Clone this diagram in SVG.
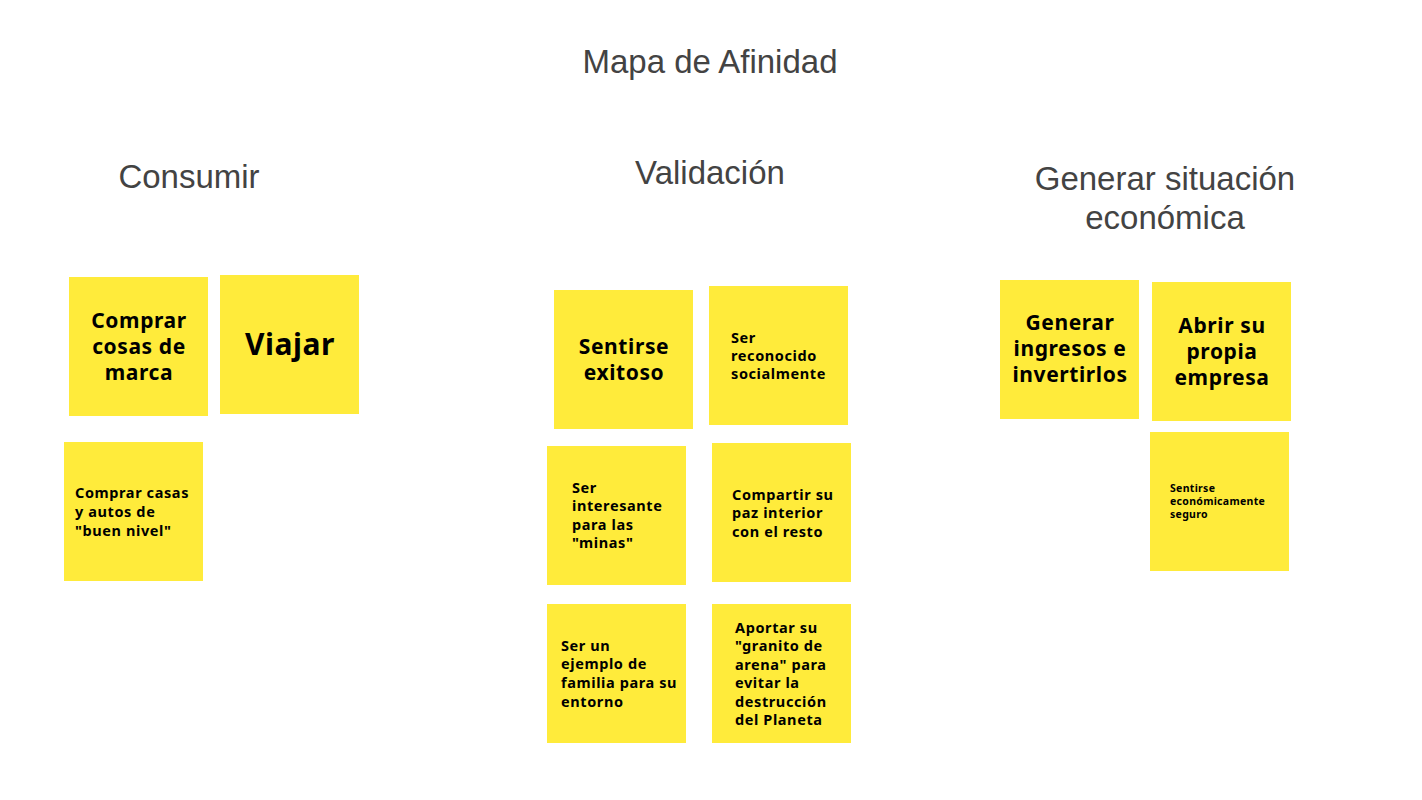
<svg xmlns="http://www.w3.org/2000/svg" width="1422" height="800" viewBox="0 0 1422 800">
<style>
.bg{fill:#ffffff}
.note{fill:#FFEB3B}
.h{font-family:"Liberation Sans",Arial,sans-serif;font-size:33px;fill:#434343;text-anchor:middle}
.t{font-family:"Noto Sans",sans-serif;font-weight:700;fill:#000000}
.c{text-anchor:middle}
.l{font-size:21px;letter-spacing:0.6px}
.m{font-size:14.5px;letter-spacing:0.6px}
.s{font-size:10.5px;letter-spacing:0.3px}
.xl{font-size:30px;letter-spacing:0.5px}
</style>
<rect class="bg" x="0" y="0" width="1422" height="800"/>
<g id="titles">
<text class="h" x="710" y="73">Mapa de Afinidad</text>
<text class="h" x="189" y="188">Consumir</text>
<text class="h" x="710" y="184">Validación</text>
<text class="h" x="1165" y="190">Generar situación</text>
<text class="h" x="1165" y="229">económica</text>
</g>
<g id="connectors"></g>
<g id="n1"><rect class="note" x="69" y="277" width="139" height="139"/>
<text class="t l c" x="139"><tspan x="139" y="328">Comprar</tspan><tspan x="139" y="354">cosas de</tspan><tspan x="139" y="380">marca</tspan></text></g>
<g id="n2"><rect class="note" x="220" y="275" width="139" height="139"/>
<text class="t xl c" x="290" y="355">Viajar</text></g>
<g id="n3"><rect class="note" x="64" y="442" width="139" height="139"/>
<text class="t m"><tspan x="75" y="498">Comprar casas</tspan><tspan x="75" y="517">y autos de</tspan><tspan x="75" y="536">"buen nivel"</tspan></text></g>
<g id="n4"><rect class="note" x="554" y="290" width="139" height="139"/>
<text class="t l c"><tspan x="624" y="354">Sentirse</tspan><tspan x="624" y="380">exitoso</tspan></text></g>
<g id="n5"><rect class="note" x="709" y="286" width="139" height="139"/>
<text class="t m"><tspan x="731" y="343">Ser</tspan><tspan x="731" y="361">reconocido</tspan><tspan x="731" y="379">socialmente</tspan></text></g>
<g id="n6"><rect class="note" x="547" y="446" width="139" height="139"/>
<text class="t m"><tspan x="572" y="493">Ser</tspan><tspan x="572" y="511">interesante</tspan><tspan x="572" y="530">para las</tspan><tspan x="572" y="548">"minas"</tspan></text></g>
<g id="n7"><rect class="note" x="712" y="443" width="139" height="139"/>
<text class="t m"><tspan x="732" y="500">Compartir su</tspan><tspan x="732" y="518">paz interior</tspan><tspan x="732" y="537">con el resto</tspan></text></g>
<g id="n8"><rect class="note" x="547" y="604" width="139" height="139"/>
<text class="t m"><tspan x="561" y="651">Ser un</tspan><tspan x="561" y="669">ejemplo de</tspan><tspan x="561" y="688">familia para su</tspan><tspan x="561" y="707">entorno</tspan></text></g>
<g id="n9"><rect class="note" x="712" y="604" width="139" height="139"/>
<text class="t m"><tspan x="735" y="633">Aportar su</tspan><tspan x="735" y="651">"granito de</tspan><tspan x="735" y="670">arena" para</tspan><tspan x="735" y="688">evitar la</tspan><tspan x="735" y="707">destrucción</tspan><tspan x="735" y="725">del Planeta</tspan></text></g>
<g id="n10"><rect class="note" x="1000" y="280" width="139" height="139"/>
<text class="t l c"><tspan x="1070" y="330">Generar</tspan><tspan x="1070" y="356">ingresos e</tspan><tspan x="1070" y="382">invertirlos</tspan></text></g>
<g id="n11"><rect class="note" x="1152" y="282" width="139" height="139"/>
<text class="t l c"><tspan x="1222" y="333">Abrir su</tspan><tspan x="1222" y="359">propia</tspan><tspan x="1222" y="385">empresa</tspan></text></g>
<g id="n12"><rect class="note" x="1150" y="432" width="139" height="139"/>
<text class="t s"><tspan x="1170" y="492">Sentirse</tspan><tspan x="1170" y="505">económicamente</tspan><tspan x="1170" y="518">seguro</tspan></text></g>
</svg>
